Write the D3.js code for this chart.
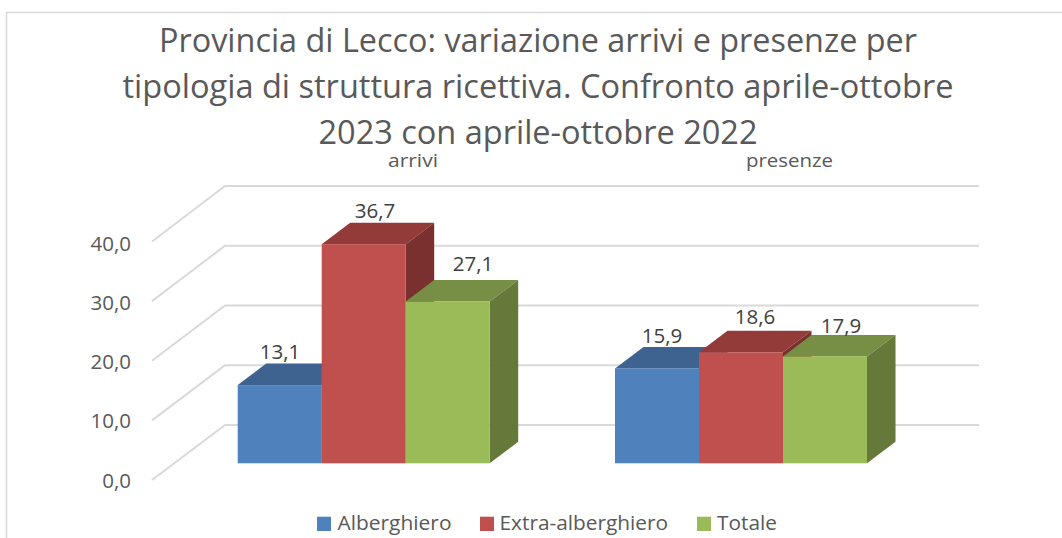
<!DOCTYPE html>
<html><head><meta charset="utf-8">
<script src="https://cdn.jsdelivr.net/npm/d3@7"></script>
<style>html,body{margin:0;padding:0;background:#fff;overflow:hidden}svg{display:block}text{font-family:"Open Sans",sans-serif}</style>
</head><body><svg id="c" width="1062" height="538"></svg>
<script>
const titleLines = ["Provincia di Lecco: variazione arrivi e presenze per","tipologia di struttura ricettiva. Confronto aprile-ottobre","2023 con aprile-ottobre 2022"];
const groups = ["arrivi","presenze"];
const seriesNames = ["Alberghiero","Extra-alberghiero","Totale"];
const alberghiero = [13.1,15.9];
const extraAlberghiero = [36.7,18.6];
const totale = [27.1,17.9];
const tickValues = [0,10,20,30,40];
const seriesValues = [alberghiero,extraAlberghiero,totale];
const frontColors = ["#4f81bd","#c0504d","#9bbb59"];
const topColors = ["#3e6390","#923b39","#778e45"];
const sideColors = ["#335277","#7a302e","#64793a"];
const fmt = v => d3.format(".1f")(v).replace(".",",");

const svg = d3.select("#c");
svg.append("path").attr("d","M6.5,538V12.5H1062").attr("fill","none").attr("stroke","#d9d9d9").attr("stroke-width",1.5);
svg.append("g").selectAll("text").data(titleLines).join("text")
  .attr("x",538).attr("y",(d,i)=>[52,97.5,143.5][i]).attr("text-anchor","middle")
  .attr("textLength",(d,i)=>[758,831,439][i]).attr("lengthAdjust","spacingAndGlyphs")
  .attr("font-size",32.5).attr("fill","#595959").text(d=>d);

const yBack = d3.scaleLinear().domain([0,40]).range([425,186]);
const yWall = d3.scaleLinear().domain([0,40]).range([480,241.5]);
const yTick = d3.scaleLinear().domain([0,40]).range([487.7,250.7]);
const h = d3.scaleLinear().domain([0,40]).range([0,238.8]);
const base = 463.3, dx = 28.5, dy = 21.5, barW = 84;
const x0 = d3.scaleOrdinal().domain(groups).range([237.7,615]);
const xOff = d3.scaleBand().domain(seriesNames).range([0,barW*3]);

const grid = svg.append("g").attr("fill","none").attr("stroke","#d9d9d9").attr("stroke-width",2);
tickValues.forEach(t=>{
  grid.append("path").attr("d",`M152,${yWall(t)}L225,${yBack(t)}H979`);
});
svg.append("g").selectAll("text").data(tickValues).join("text")
  .attr("x",131).attr("y",t=>yTick(t)).attr("text-anchor","end")
  .attr("font-size",20.5).attr("fill","#595959").text(fmt);

groups.forEach((g,gi)=>{
  svg.append("text").attr("x",[413,789.5][gi]).attr("y",167).attr("text-anchor","middle")
    .attr("textLength",[50,87][gi]).attr("lengthAdjust","spacingAndGlyphs")
    .attr("font-size",18).attr("fill","#595959").text(g);
  seriesNames.forEach((s,si)=>{
    const v = seriesValues[si][gi], x = x0(g)+xOff(s), w = xOff.bandwidth(), top = base-h(v);
    const bar = svg.append("g");
    bar.append("path").attr("fill",topColors[si]).attr("d",`M${x},${top}l${dx},${-dy}h${w}l${-dx},${dy}z`);
    bar.append("path").attr("fill",sideColors[si]).attr("d",`M${x+w},${top}l${dx},${-dy}V${base-dy}l${-dx},${dy}z`);
    bar.append("rect").attr("x",x).attr("y",top).attr("width",w).attr("height",h(v)).attr("fill",frontColors[si]);
  });
});
const labelCx = [[280,375,473],[662,755,841]];
const labelBase = [[359.3,217.7,271],[343,324.3,333.3]];
groups.forEach((g,gi)=>seriesNames.forEach((s,si)=>{
  svg.append("text").attr("x",labelCx[gi][si]).attr("y",labelBase[gi][si]).attr("text-anchor","middle")
    .attr("font-size",20.5).attr("fill","#404040").text(fmt(seriesValues[si][gi]));
}));
const lg = svg.append("g");
const lgX = [317,480,697];
const lgTextX = [337.5,499.5,717];
const lgTextW = [114,168.5,60];
seriesNames.forEach((s,i)=>{
  lg.append("rect").attr("x",lgX[i]).attr("y",516.7).attr("width",14).attr("height",14.3).attr("fill",frontColors[i]);
  lg.append("text").attr("x",lgTextX[i]).attr("y",530).attr("textLength",lgTextW[i]).attr("lengthAdjust","spacingAndGlyphs")
    .attr("font-size",20.5).attr("fill","#595959").text(s);
});
</script></body></html>
